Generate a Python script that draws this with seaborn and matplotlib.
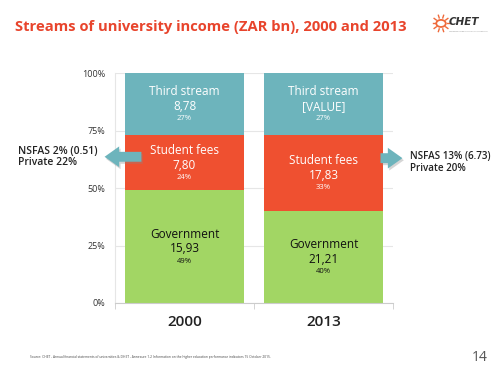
import math
import matplotlib.pyplot as plt
import matplotlib.patches as mpatches
import seaborn as sns
import pandas as pd

years = ['2000', '2013']
streams = ['Government', 'Student fees', 'Third stream']
value_labels = {
    'Government': ['15,93', '21,21'],
    'Student fees': ['7,80', '17,83'],
    'Third stream': ['8,78', '[VALUE]'],
}
shares = {
    'Government': [49, 40],
    'Student fees': [24, 33],
    'Third stream': [27, 27],
}
colors = {'Government': '#a2d664', 'Student fees': '#ef5030', 'Third stream': '#6db4bc'}
text_colors = {'Government': '#111111', 'Student fees': 'white', 'Third stream': 'white'}
side_notes = ['NSFAS 2% (0.51)\nPrivate 22%', 'NSFAS 13% (6.73)\nPrivate 20%']
yticks = [0, 25, 50, 75, 100]

df = pd.DataFrame(shares, index=years)
cum = df.cumsum(axis=1)

plt.rcParams['font.family'] = ['Open Sans', 'DejaVu Sans']
fig = plt.figure(figsize=(5, 3.72), dpi=100)
ax = fig.add_axes([0.23, 0.1855, 0.556, 0.618])

# stacked bars: draw tallest first
for s in reversed(streams):
    sns.barplot(x=years, y=cum[s].values, color=colors[s], width=0.85,
                saturation=1, ax=ax, zorder=2)

ax.set_ylim(0, 100)
ax.set_xlim(-0.5, 1.5)
ax.set_yticks(yticks)
ax.set_yticklabels([f'{t}%' for t in yticks], fontsize=6.5, color='#333333')
ax.tick_params(axis='y', length=0, pad=7)
ax.tick_params(axis='x', length=0, pad=9, labelsize=11, labelcolor='#222222')
for lbl in ax.get_xticklabels():
    lbl.set_fontweight('semibold')
ax.set_xticks([-0.5, 0.5, 1.5], minor=True)
ax.tick_params(axis='x', which='minor', length=4, color='#cccccc')
ax.yaxis.grid(True, color='#e6e6e6', linewidth=0.8, zorder=0)
ax.set_axisbelow(True)
for sp in ['top', 'right']:
    ax.spines[sp].set_visible(False)
ax.spines['left'].set_color('#e6e6e6')
ax.spines['bottom'].set_color('#cccccc')

# labels in segments
for i, yr in enumerate(years):
    base = 0
    for s in streams:
        h = df.loc[yr, s]
        mid = base + h / 2 - 1.0
        tc = text_colors[s]
        ax.text(i, mid + 6.5, s, ha='center', va='center', fontsize=8.5, color=tc, zorder=5)
        ax.text(i, mid, value_labels[s][i], ha='center', va='center', fontsize=8.5, color=tc, zorder=5)
        ax.text(i, mid - 5.4, f'{h}%', ha='center', va='center', fontsize=5.5, color=tc, zorder=5)
        base += h

# arrows
arrow_col = '#6db4bc'
def arrow(x0, dx, y):
    shadow = mpatches.FancyArrow(x0 + 0.01, y - 0.9, dx, 0, width=4.3, head_width=9.0,
                                 head_length=0.105, length_includes_head=True,
                                 color='#888888', alpha=0.35, clip_on=False, zorder=6, lw=0)
    a = mpatches.FancyArrow(x0, y, dx, 0, width=4.3, head_width=9.0,
                            head_length=0.105, length_includes_head=True,
                            color=arrow_col, clip_on=False, zorder=7, lw=0)
    ax.add_patch(shadow)
    ax.add_patch(a)

arrow(-0.31, -0.265, 63.6)
arrow(1.41, 0.158, 63.0)

fig.text(0.036, 0.578, side_notes[0], fontsize=7.5, color='#222222', va='center', ha='left',
         linespacing=1.1, fontweight='semibold')
fig.text(0.82, 0.563, side_notes[1], fontsize=7.1, color='#222222', va='center', ha='left',
         linespacing=1.1, fontweight='semibold')

# title and furniture
fig.text(0.03, 0.928, 'Streams of university income (ZAR bn), 2000 and 2013',
         fontsize=10.6, fontweight='bold', color='#e8442c', va='center', ha='left')
cx, cy = 0.882, 0.937
fig.add_artist(mpatches.Circle((cx, cy), 0.0095, transform=fig.transFigure,
                               facecolor='white', edgecolor='#ef6a3a', lw=1.3))
for k in range(10):
    ang = 2 * math.pi * k / 10
    fig.add_artist(plt.Line2D([cx + 0.0115 * math.cos(ang), cx + 0.017 * math.cos(ang)],
                              [cy + 0.0155 * math.sin(ang), cy + 0.023 * math.sin(ang)],
                              transform=fig.transFigure, color='#ef6a3a', lw=1.0))
fig.text(0.898, 0.94, 'CHET', fontsize=7.5, fontweight='heavy', style='italic',
         color='#333333', va='center', ha='left', family='DejaVu Sans')
fig.text(0.898, 0.915, 'CENTRE FOR HIGHER EDUCATION TRANSFORMATION', fontsize=1.2,
         color='#888888', va='center', ha='left')

fig.text(0.06, 0.04, 'Source: CHET - Annual financial statements of universities & DHET - Annexure 1.2 Information on the higher education performance indicators 15 October 2015.',
         fontsize=2.3, color='#444444', va='center', ha='left')
fig.text(0.975, 0.04, '14', fontsize=10, color='#555555', va='center', ha='right')

fig.savefig('out.png', dpi=100)
